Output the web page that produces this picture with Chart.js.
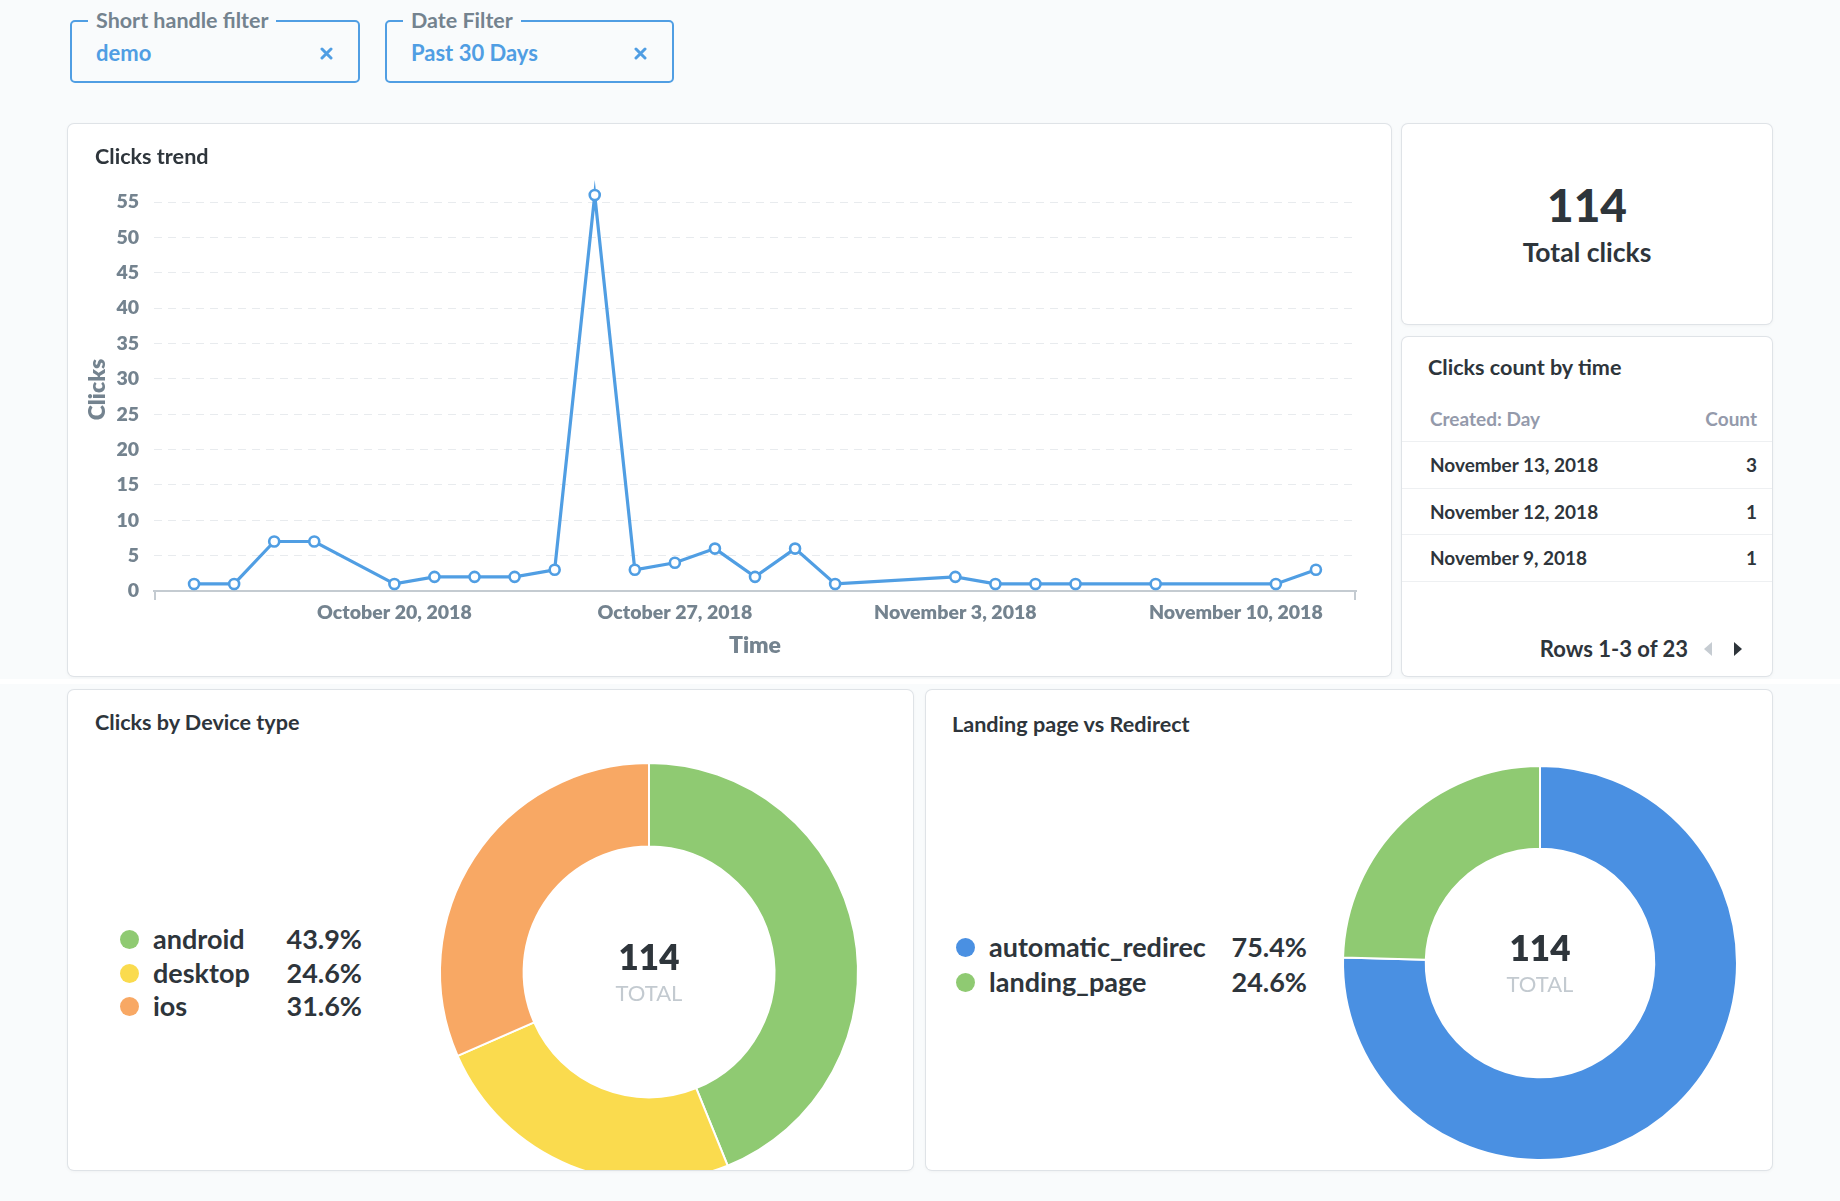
<!DOCTYPE html>
<html>
<head>
<meta charset="utf-8">
<script src="https://cdn.jsdelivr.net/npm/chart.js@4.4.1/dist/chart.umd.min.js"></script>
<style>
  body { margin: 0; width: 1840px; height: 1201px; background: #f9fbfc; font-family: Lato, sans-serif; position: relative; overflow: hidden; color: #2e353b; }
  .filter { position: absolute; top: 20px; height: 63px; border: 2px solid #509ee3; border-radius: 5px; box-sizing: border-box; }
  .filter .lbl { position: absolute; top: -14px; left: 16px; padding: 0 8px; background: #f9fbfc; color: #74838f; font-weight: 700; font-size: 21.5px; line-height: 24px; }
  .filter .val { position: absolute; left: 24px; top: 18px; color: #509ee3; font-weight: 700; font-size: 22px; line-height: 26px; }
  .filter svg { position: absolute; top: 25px; }
  .band { position: absolute; left: 0; top: 679px; width: 1840px; height: 5px; background: #fff; }
  .card { position: absolute; background: #fff; border-radius: 6px; overflow: hidden; box-shadow: 0 0 0 1px #dfe3e7, 0 1px 4px rgba(0,0,0,0.06); }
  .title { position: absolute; left: 27px; top: 19px; font-weight: 700; font-size: 21.6px; line-height: 26px; color: #2e353b; white-space: nowrap; z-index: 2; }
  canvas { position: absolute; }
  .row { position: absolute; height: 34px; line-height: 34px; font-weight: 700; font-size: 27px; color: #2e353b; white-space: nowrap; }
  .dot { position: absolute; width: 19px; height: 19px; border-radius: 50%; top: 8px; }
  .pct { position: absolute; text-align: right; }
  .big { position: absolute; left: 0; width: 370px; text-align: center; font-weight: 900; font-size: 46px; line-height: 50px; top: 56px; }
  .big-sub { position: absolute; left: 0; width: 370px; text-align: center; font-weight: 700; font-size: 26.5px; line-height: 30px; top: 113px; }
  .tline { position: absolute; left: 0; width: 370px; height: 1px; background: #eef0f2; }
  .tcell { position: absolute; font-weight: 700; font-size: 19px; line-height: 24px; white-space: nowrap; }
  .tcell.num { right: 15px; text-align: right; }
  .thead { color: #949aab; }
  .pager { position: absolute; right: 84px; top: 297px; font-weight: 700; font-size: 22px; line-height: 30px; }
</style>
</head>
<body>
<div class="filter" style="left:70px;width:290px;">
  <div class="lbl">Short handle filter</div>
  <div class="val">demo</div>
  <svg style="left:248px" width="13" height="13" viewBox="0 0 13 13"><path d="M2 2L11 11M11 2L2 11" stroke="#509ee3" stroke-width="3" stroke-linecap="round"/></svg>
</div>
<div class="filter" style="left:385px;width:289px;">
  <div class="lbl">Date Filter</div>
  <div class="val">Past 30 Days</div>
  <svg style="left:247px" width="13" height="13" viewBox="0 0 13 13"><path d="M2 2L11 11M11 2L2 11" stroke="#509ee3" stroke-width="3" stroke-linecap="round"/></svg>
</div>

<div class="band"></div>

<div class="card" style="left:68px;top:124px;width:1323px;height:552px;">
  <div class="title">Clicks trend</div>
  <canvas id="trend" width="1323" height="552" style="left:0;top:0"></canvas>
</div>

<div class="card" style="left:1402px;top:124px;width:370px;height:200px;">
  <div class="big" id="totalNum"></div>
  <div class="big-sub">Total clicks</div>
</div>

<div class="card" id="tableCard" style="left:1402px;top:337px;width:370px;height:339px;">
  <div class="title" style="left:26px;top:17px;">Clicks count by time</div>
</div>

<div class="card" id="deviceCard" style="left:68px;top:690px;width:845px;height:480px;">
  <div class="title">Clicks by Device type</div>
  <canvas id="device" width="440" height="440" style="left:361px;top:62px"></canvas>
</div>

<div class="card" id="redirectCard" style="left:926px;top:690px;width:846px;height:480px;">
  <div class="title" style="left:26px;top:21px;">Landing page vs Redirect</div>
  <canvas id="redirect" width="420" height="420" style="left:404px;top:63px"></canvas>
</div>

<script>
// clicks per day (UTC dates)
const clickDates = ["2018-10-16", "2018-10-17", "2018-10-18", "2018-10-19", "2018-10-21", "2018-10-22",
  "2018-10-23", "2018-10-24", "2018-10-25", "2018-10-26", "2018-10-27", "2018-10-28", "2018-10-29",
  "2018-10-30", "2018-10-31", "2018-11-01", "2018-11-04", "2018-11-05", "2018-11-06", "2018-11-07",
  "2018-11-09", "2018-11-12", "2018-11-13"];
const clickCounts = [1, 1, 7, 7, 1, 2, 2, 2, 3, 56, 3, 4, 6, 2, 6, 1, 2, 1, 1, 1, 1, 1, 3];

const xTickDates = ["2018-10-20", "2018-10-27", "2018-11-03", "2018-11-10"];
const xTickLabels = ["October 20, 2018", "October 27, 2018", "November 3, 2018", "November 10, 2018"];
const xMinDate = "2018-10-14";
const xMaxDate = "2018-11-13";
const yMax = 57;
const yStep = 5;

const deviceLabels = ["android", "desktop", "ios"];
const deviceClicks = [50, 28, 36];
const deviceColors = ["#8fca72", "#fadb4e", "#f8a864"];

const redirectLabels = ["automatic_redirec", "landing_page"];
const redirectClicks = [86, 28];
const redirectColors = ["#4a90e2", "#8fca72"];

const TICK_GREY = "#74838f";
const AXIS_GREY = "#c4cbd1";

Chart.defaults.font.family = "Lato";
Chart.defaults.animation = false;

const DAY = 864e5;
const dayNum = (s) => Date.parse(s + "T00:00:00Z") / DAY;
// the dashboard axis shows local time, which runs a day behind the stored dates
const shownDay = (s) => dayNum(s) - 1;

const sum = (arr) => arr.reduce((a, b) => a + b, 0);
const totalClicks = sum(clickCounts);

// little end ticks on the x axis line, like the d3 domain path
const axisEnds = {
  id: "axisEnds",
  afterDraw(chart) {
    const { ctx, chartArea } = chart;
    ctx.save();
    ctx.strokeStyle = AXIS_GREY;
    ctx.lineWidth = 2;
    ctx.beginPath();
    [chartArea.left + 1, chartArea.right - 1].forEach((x) => {
      ctx.moveTo(x, chartArea.bottom);
      ctx.lineTo(x, chartArea.bottom + 9);
    });
    ctx.stroke();
    ctx.restore();
  },
};

new Chart(document.getElementById("trend"), {
  type: "line",
  data: {
    datasets: [
      {
        data: clickDates.map((d, i) => ({ x: shownDay(d), y: clickCounts[i] })),
        borderColor: "#509ee3",
        borderWidth: 3.2,
        pointRadius: 5,
        pointBorderWidth: 2.6,
        pointBackgroundColor: "#fff",
        pointBorderColor: "#509ee3",
        tension: 0,
        clip: false,
      },
    ],
  },
  options: {
    responsive: false,
    layout: { padding: { top: 64, right: 35, left: 0, bottom: 0 } },
    plugins: { legend: { display: false }, tooltip: { enabled: false } },
    scales: {
      x: {
        type: "linear",
        min: dayNum(xMinDate),
        max: dayNum(xMaxDate),
        afterBuildTicks: (scale) => {
          scale.ticks = xTickDates.map((d) => ({ value: dayNum(d) }));
        },
        afterFit: (scale) => { scale.height = 85; },
        grid: { display: false, drawTicks: false },
        border: { display: true, color: AXIS_GREY, width: 2 },
        ticks: {
          autoSkip: false,
          maxRotation: 0,
          padding: 10,
          color: TICK_GREY,
          font: { size: 19.5, weight: 800 },
          callback: (v, i) => xTickLabels[i],
        },
        title: {
          display: true,
          text: "Time",
          color: TICK_GREY,
          font: { size: 23, weight: 800 },
          padding: { top: 0, bottom: 17 },
        },
      },
      y: {
        min: 0,
        max: yMax,
        afterBuildTicks: (scale) => {
          scale.ticks = scale.ticks.filter((t) => t.value % yStep === 0);
        },
        afterFit: (scale) => { scale.width = 86; },
        border: { display: false, dash: [8, 6] },
        grid: {
          drawTicks: false,
          color: (ctx) => (ctx.tick && ctx.tick.value === 0 ? "rgba(0,0,0,0)" : "#e8ebee"),
          lineWidth: 1,
        },
        ticks: {
          stepSize: yStep,
          includeBounds: false,
          padding: 15,
          color: TICK_GREY,
          font: { size: 19.5, weight: 800 },
        },
        title: {
          display: true,
          text: "Clicks",
          color: TICK_GREY,
          font: { size: 23, weight: 800 },
          padding: { top: 16, bottom: 0 },
        },
      },
    },
  },
  plugins: [axisEnds],
});

// total scalar
document.getElementById("totalNum").textContent = totalClicks;

// table card: latest three days
const tableCard = document.getElementById("tableCard");
const fmt = (s) => new Date(s + "T00:00:00Z").toLocaleDateString("en-US", { month: "long", day: "numeric", year: "numeric", timeZone: "UTC" });
const latest = clickDates.map((d, i) => [d, clickCounts[i]]).slice(-3).reverse();
let html = '<div class="tcell thead" style="left:28px;top:70px">Created: Day</div>' +
  '<div class="tcell thead num" style="top:70px">Count</div>' +
  '<div class="tline" style="top:104px"></div>';
latest.forEach(([d, c], i) => {
  const top = 104 + i * 46.5;
  html += `<div class="tcell" style="left:28px;top:${top + 12}px">${fmt(d)}</div>` +
    `<div class="tcell num" style="top:${top + 12}px">${c}</div>` +
    `<div class="tline" style="top:${Math.round(top + 46.5)}px"></div>`;
});
html += `<div class="pager">Rows 1-3 of ${clickDates.length}</div>` +
  '<svg style="position:absolute;left:301px;top:304px" width="10" height="16"><path d="M9 1L1 8L9 15Z" fill="#c6ccd2"/></svg>' +
  '<svg style="position:absolute;left:331px;top:304px" width="10" height="16"><path d="M1 1L9 8L1 15Z" fill="#2e353b"/></svg>';
tableCard.insertAdjacentHTML("beforeend", html);

// text in the middle of a doughnut
const centerTotal = {
  id: "centerTotal",
  afterDraw(chart) {
    const { ctx, chartArea } = chart;
    const cx = (chartArea.left + chartArea.right) / 2;
    const cy = (chartArea.top + chartArea.bottom) / 2;
    const total = sum(chart.data.datasets[0].data);
    ctx.save();
    ctx.textAlign = "center";
    ctx.textBaseline = "middle";
    ctx.fillStyle = "#2e353b";
    ctx.font = "800 35px Lato";
    ctx.fillText(String(total), cx, cy - 13);
    ctx.fillStyle = "#c3cad0";
    ctx.font = "22px Lato";
    ctx.fillText("TOTAL", cx, cy + 22);
    ctx.restore();
  },
};

function makeDoughnut(id, labels, values, colors, cutout, pad) {
  return new Chart(document.getElementById(id), {
    type: "doughnut",
    data: {
      labels,
      datasets: [{ data: values, backgroundColor: colors, borderColor: "#fff", borderWidth: 2 }],
    },
    options: {
      responsive: false,
      cutout,
      layout: { padding: pad },
      plugins: { legend: { display: false }, tooltip: { enabled: false } },
    },
    plugins: [centerTotal],
  });
}

function makeLegend(cardId, labels, values, colors, pos) {
  const card = document.getElementById(cardId);
  const total = sum(values);
  labels.forEach((name, i) => {
    const top = pos.top + i * pos.step - 17;
    const pct = ((values[i] / total) * 100).toFixed(1) + "%";
    card.insertAdjacentHTML("beforeend",
      `<div class="row" style="left:0;top:${top}px;width:${pos.pctRight}px">` +
      `<div class="dot" style="left:${pos.dotX - 9.5}px;background:${colors[i]}"></div>` +
      `<div style="position:absolute;left:${pos.labelX}px">${name}</div>` +
      `<div class="pct" style="right:0">${pct}</div></div>`);
  });
}

makeDoughnut("device", deviceLabels, deviceClicks, deviceColors, "60%", 10);
makeLegend("deviceCard", deviceLabels, deviceClicks, deviceColors, { top: 249, step: 33.5, dotX: 61, labelX: 85, pctRight: 294 });

makeDoughnut("redirect", redirectLabels, redirectClicks, redirectColors, "58%", 12);
makeLegend("redirectCard", redirectLabels, redirectClicks, redirectColors, { top: 257, step: 35, dotX: 39, labelX: 63, pctRight: 381 });
</script>
</body>
</html>
